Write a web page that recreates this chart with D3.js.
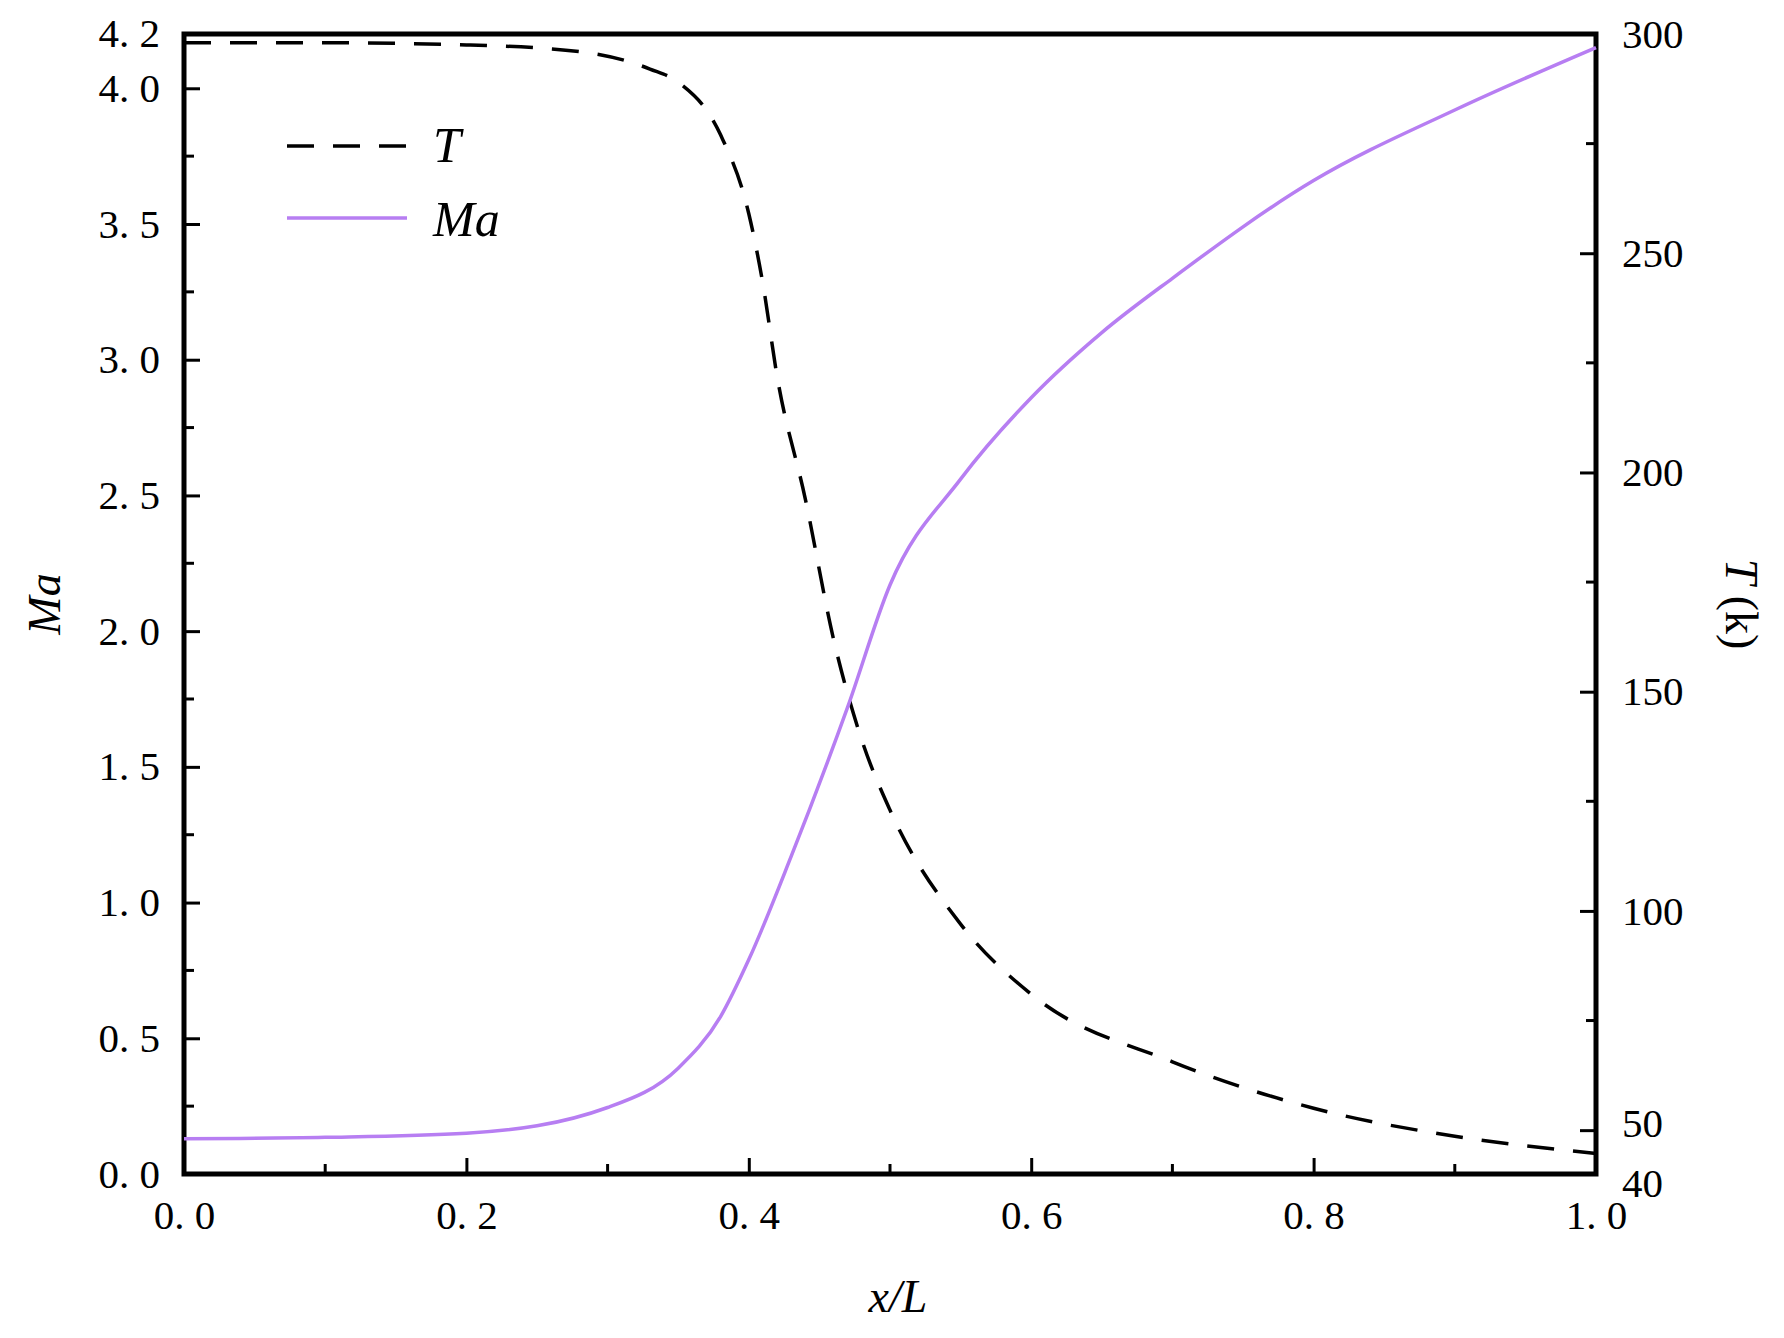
<!DOCTYPE html>
<html><head><meta charset="utf-8">
<script src="https://cdn.jsdelivr.net/npm/d3@7"></script>
<style>body{margin:0;background:#fff}text{font-family:"Liberation Serif","DejaVu Serif",serif;fill:#000}</style>
</head><body><div id="chart"></div>
<script>
const xT = [0, 0.1, 0.2, 0.28, 0.33, 0.35, 0.38, 0.40, 0.41, 0.42, 0.44, 0.46, 0.48, 0.50, 0.55, 0.60, 0.70, 0.80, 0.90, 1.0];
const tVals = [298, 298, 297.5, 296, 292, 289, 277, 259, 243, 222, 194, 162, 139, 123, 97, 81, 65.6, 55, 48.6, 44.7];
const xMa = [0, 0.1, 0.2, 0.3, 0.35, 0.38, 0.40, 0.43, 0.47, 0.50, 0.55, 0.60, 0.65, 0.70, 0.80, 0.90, 1.0];
const maVals = [0.13, 0.135, 0.15, 0.245, 0.39, 0.58, 0.79, 1.17, 1.72, 2.17, 2.56, 2.86, 3.1, 3.3, 3.66, 3.92, 4.15];
const xTicks = [0, 0.2, 0.4, 0.6, 0.8, 1.0];
const maTicks = [0, 0.5, 1.0, 1.5, 2.0, 2.5, 3.0, 3.5, 4.0, 4.2];
const tTicks = [40, 50, 100, 150, 200, 250, 300];

const W = 1784, H = 1338, L = 184, R = 1596, T = 34, B = 1174;
const svg = d3.select("#chart").append("svg").attr("width", W).attr("height", H);
const x = d3.scaleLinear().domain([0, 1]).range([L, R]);
const yMa = d3.scaleLinear().domain([0, 4.2]).range([B, T]);
const yT = d3.scaleLinear().domain([40, 300]).range([B, T]);
const fmt = d => d.toFixed(1).replace(".", ". ");

function ticks(g, axis, major, minor, fs) {
  g.call(axis.tickValues(major).tickSize(fs.len).tickFormat(fs.fmt));
  g.select(".domain").remove();
  g.selectAll(".tick line").attr("stroke", "#000").attr("stroke-width", 3);
  g.selectAll(".tick text").attr("font-size", 41);
  minor.forEach(v => g.append("line").attr("stroke", "#000").attr("stroke-width", 3)
    .attr(fs.attr1, fs.s(v)).attr(fs.attr2, fs.s(v)).attr(fs.o1, 0).attr(fs.o2, fs.mlen));
}
// x axis
const gx = svg.append("g").attr("transform", `translate(0,${B})`);
ticks(gx, d3.axisBottom(x).tickPadding(26), xTicks, d3.range(0.1, 1, 0.2),
  {len: -16, mlen: -10, fmt: fmt, attr1: "x1", attr2: "x2", o1: "y1", o2: "y2", s: x});
// left axis
const gl = svg.append("g").attr("transform", `translate(${L},0)`);
ticks(gl, d3.axisLeft(yMa).tickPadding(24), maTicks.slice(0, 9), d3.range(0.25, 4.2, 0.5),
  {len: -16, mlen: 10, fmt: fmt, attr1: "y1", attr2: "y2", o1: "x1", o2: "x2", s: yMa});
gl.append("text").attr("x", -24).attr("y", yMa(4.2)).attr("dy", "0.32em").attr("text-anchor", "end").attr("font-size", 41).text("4. 2");
// right axis
const gr = svg.append("g").attr("transform", `translate(${R},0)`);
ticks(gr, d3.axisRight(yT).tickPadding(26), tTicks, d3.range(75, 300, 50),
  {len: -16, mlen: -10, fmt: d => d, attr1: "y1", attr2: "y2", o1: "x1", o2: "x2", s: yT});
gr.selectAll(".tick").filter(d => d === 40).select("text").attr("dy", "0.55em");
gr.selectAll(".tick").filter(d => d === 50).select("text").attr("dy", "0.15em");

svg.append("rect").attr("x", L).attr("y", T).attr("width", R - L).attr("height", B - T)
  .attr("fill", "none").attr("stroke", "#000").attr("stroke-width", 5);

const line = (xs, ys, sy) => d3.line().curve(d3.curveMonotoneX).x((d, i) => x(xs[i])).y(d => sy(d))(ys);
svg.append("path").attr("d", line(xT, tVals, yT)).attr("fill", "none").attr("stroke", "#000")
  .attr("stroke-width", 3.5).attr("stroke-dasharray", "27,19");
svg.append("path").attr("d", line(xMa, maVals, yMa)).attr("fill", "none").attr("stroke", "#b77ef2")
  .attr("stroke-width", 3.5);

// legend
svg.append("line").attr("x1", 287).attr("x2", 407).attr("y1", 146).attr("y2", 146)
  .attr("stroke", "#000").attr("stroke-width", 3.5).attr("stroke-dasharray", "27,19");
svg.append("line").attr("x1", 287).attr("x2", 407).attr("y1", 218).attr("y2", 218)
  .attr("stroke", "#b77ef2").attr("stroke-width", 3.5);
svg.append("text").attr("x", 433).attr("y", 162).attr("font-size", 50).attr("font-style", "italic").text("T");
svg.append("text").attr("x", 433).attr("y", 236).attr("font-size", 50).attr("font-style", "italic").text("Ma");

// axis titles
svg.append("text").attr("x", 898).attr("y", 1312).attr("text-anchor", "middle")
  .attr("font-size", 46).attr("font-style", "italic").text("x/L");
svg.append("text").attr("transform", `translate(60,${(T + B) / 2}) rotate(-90)`).attr("text-anchor", "middle")
  .attr("font-size", 46).attr("font-style", "italic").text("Ma");
svg.append("text").attr("transform", `translate(1726,${(T + B) / 2}) rotate(90)`).attr("text-anchor", "middle")
  .attr("font-size", 46).html('<tspan font-style="italic">T</tspan> (k)');
</script></body></html>
